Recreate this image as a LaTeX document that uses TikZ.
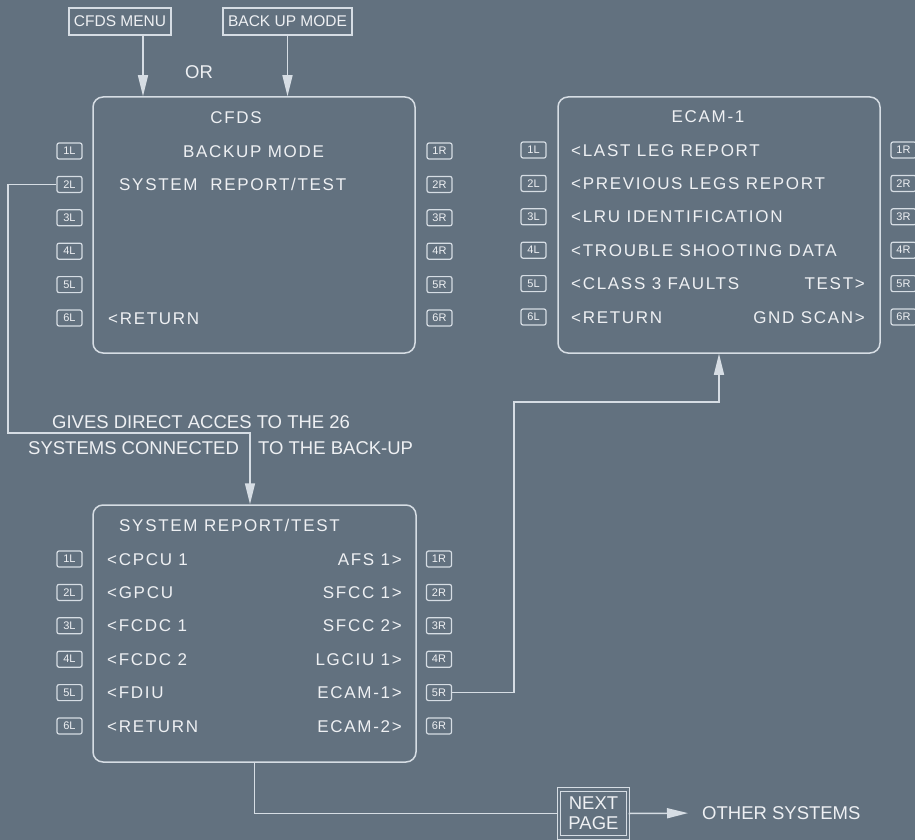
\documentclass[tikz,border=0pt]{standalone}
\usepackage{fontspec}
\setmainfont{Liberation Sans}
\newfontfamily\scrfont[LetterSpace=10]{Liberation Sans}
\usetikzlibrary{arrows.meta,calc}
\definecolor{bg}{RGB}{98,113,127}
\definecolor{ln}{RGB}{214,221,228}
\definecolor{tx}{RGB}{238,240,243}
\tikzset{
  screen/.style={draw=ln, line width=1.5pt, rounded corners=10pt, minimum width=322pt, minimum height=256pt, inner sep=0pt},
  key/.style={draw=ln, line width=1.2pt, rounded corners=2pt, minimum width=25pt, minimum height=16pt, inner sep=0pt, text=tx, font=\fontsize{11}{11}\selectfont},
  scr/.style={inner sep=0pt, text=tx, font=\scrfont\fontsize{17}{20}\selectfont, text height=12.2pt, text depth=0pt},
  lbl/.style={draw=ln, line width=1.3pt, inner sep=0pt, minimum height=27pt, text=tx, font=\fontsize{15.5}{18}\selectfont},
  note/.style={inner sep=0pt, text=tx, font=\fontsize{18.5}{20}\selectfont, text height=13.3pt, text depth=0pt},
  wire/.style={draw=ln, line width=1.5pt},
  arr/.style={wire, -{Triangle[width=10pt,length=21pt]}}
}
\begin{document}
\begin{tikzpicture}[x=1pt,y=-1pt]
\useasboundingbox (0,0) rectangle (915,840);
\fill[bg] (0,0) rectangle (915,840);

% top labels
\node[lbl, minimum width=102pt] (menu) at (120,21.5) {CFDS MENU};
\node[lbl, minimum width=129pt] (bum) at (287.5,21.5) {BACK UP MODE};
\node[note] (or) at (199,72) {OR};

% screens
\node[screen] (cfds) at (254,225) {};
\node[screen] (ecam) at (719,225) {};
\node[screen, minimum width=323pt, minimum height=257pt] (sys) at (254.5,633.5) {};

% keys
\foreach \i in {1,...,6} {
  \pgfmathsetmacro\ya{151+33.4*(\i-1)}
  \pgfmathsetmacro\yb{150+33.4*(\i-1)}
  \pgfmathsetmacro\yc{559+33.4*(\i-1)}
  \node[key] (cL\i) at (69.5,\ya) {\i L};
  \node[key] (cR\i) at (439.5,\ya) {\i R};
  \node[key] (eL\i) at (533.5,\yb) {\i L};
  \node[key] (eR\i) at (903.5,\yb) {\i R};
  \node[key] (sL\i) at (69.5,\yc) {\i L};
  \node[key] (sR\i) at (439,\yc) {\i R};
}

% CFDS screen text
\node[scr] (cT) at (236,117) {CFDS};
\node[scr] (c1) at (253.5,151) {BACKUP MODE};
\node[scr, anchor=west] (c2) at (119,184) {SYSTEM\ \ REPORT/TEST};
\node[scr, anchor=west] (c6) at (108,318) {<RETURN};

% ECAM-1 screen text
\node[scr] (eT) at (708,116) {ECAM-1};
\node[scr, anchor=west] (e1) at (571,150) {<LAST LEG REPORT};
\node[scr, anchor=west] (e2) at (571,183.4) {<PREVIOUS LEGS REPORT};
\node[scr, anchor=west] (e3) at (571,216.8) {<LRU IDENTIFICATION};
\node[scr, anchor=west] (e4) at (571,250.2) {<TROUBLE SHOOTING DATA};
\node[scr, anchor=west] (e5) at (571,283.6) {<CLASS 3 FAULTS};
\node[scr, anchor=west] (e6) at (571,317) {<RETURN};
\node[scr, anchor=east] (e5r) at (865,283.6) {TEST>};
\node[scr, anchor=east] (e6r) at (865,317) {GND SCAN>};

% SYSTEM REPORT/TEST screen text
\node[scr, anchor=west] (sT) at (119,525) {SYSTEM REPORT/TEST};
\node[scr, anchor=west] (s1) at (107,559) {<CPCU 1};
\node[scr, anchor=west] (s2) at (107,592.4) {<GPCU};
\node[scr, anchor=west] (s3) at (107,625.8) {<FCDC 1};
\node[scr, anchor=west] (s4) at (107,659.2) {<FCDC 2};
\node[scr, anchor=west] (s5) at (107,692.6) {<FDIU};
\node[scr, anchor=west] (s6) at (107,726) {<RETURN};
\node[scr, anchor=east] (s1r) at (402,559) {AFS 1>};
\node[scr, anchor=east] (s2r) at (402,592.4) {SFCC 1>};
\node[scr, anchor=east] (s3r) at (402,625.8) {SFCC 2>};
\node[scr, anchor=east] (s4r) at (402,659.2) {LGCIU 1>};
\node[scr, anchor=east] (s5r) at (402,692.6) {ECAM-1>};
\node[scr, anchor=east] (s6r) at (402,726) {ECAM-2>};

% notes
\node[note, anchor=west] (g1) at (52,422) {GIVES DIRECT ACCES TO THE 26};
\node[note, anchor=west] (g2) at (28,448) {SYSTEMS CONNECTED};
\node[note, anchor=west] (g3) at (258,448) {TO THE BACK-UP};

% next page
\node[draw=ln, line width=1.3pt, double=bg, double distance=2.2pt, minimum width=69pt, minimum height=48pt, inner sep=0pt, align=center, text=tx, font=\fontsize{18.5}{20}\selectfont] (next) at (593.5,813.5) {NEXT\\PAGE};
\node[note, anchor=west] (oth) at (702,813) {OTHER SYSTEMS};

% connectors
\coordinate (ax1) at (143,0);
\coordinate (j1) at (8,433);
\coordinate (j1b) at (250,433);
\coordinate (j2) at (514,402);
\draw[arr] (menu.south -| ax1) -- (cfds.north -| ax1);
\draw[arr] (bum.south) -- (cfds.north -| bum.south);
\draw[arr] (cL2.west) -| (j1) -- (j1b) -- (sys.north -| j1b);
\draw[arr] (sR5.east) -| (j2) -| (ecam.south);
\draw[wire] (sys.south) |- (next.west);
\draw[arr, shorten >=14pt] (next.east) -- (oth.west);
\end{tikzpicture}
\end{document}
